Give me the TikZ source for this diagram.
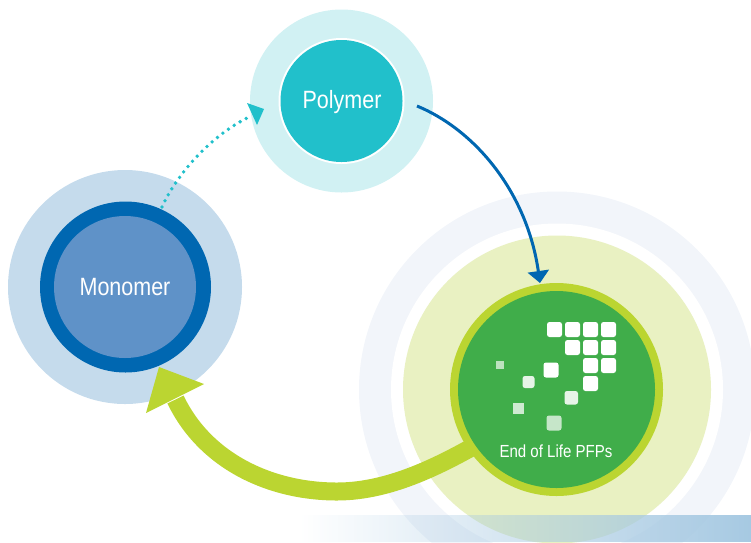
\documentclass[tikz,border=0pt]{standalone}
\usepackage{fontspec}
\setmainfont{Liberation Sans}
\newfontfamily\condfont[FakeStretch=0.86]{Liberation Sans}
\usetikzlibrary{arrows.meta,fadings,calc}
\definecolor{polypale}{HTML}{D1F1F3}
\definecolor{polyteal}{HTML}{21C0CB}
\definecolor{monopale}{HTML}{C5DBEC}
\definecolor{monodark}{HTML}{0067B1}
\definecolor{monomid}{HTML}{5F92C8}
\definecolor{pfpgreen}{HTML}{40AD4A}
\definecolor{lime}{HTML}{BBD531}
\definecolor{limepale}{HTML}{E9F1C2}
\definecolor{ringpale}{HTML}{F2F5FA}
\definecolor{barblue}{HTML}{A6C9E2}
\tikzset{
  x=1pt,y=-1pt,
  disc/.style={circle,inner sep=0pt,outer sep=0pt,minimum size=#1},
  label text/.style={text=white,font=\condfont\fontsize{25}{25}\selectfont,align=center},
  tile/.style={fill=white,rounded corners=2.5pt},
}
\begin{document}
\begin{tikzpicture}
\useasboundingbox (0,0) rectangle (751,542);
\clip (0,0) rectangle (751,542);
% end of life halos
\node[disc=396pt,fill=ringpale] (pfpouter) at (557,389.5) {};
\node[disc=332pt,fill=white] (pfpgap) at (557,389.5) {};
\node[disc=308pt,fill=limepale] (pfphalo) at (557,389.5) {};
% polymer
\node[disc=183pt,fill=polypale] (polyhalo) at (341.5,101) {};
\node[disc=126pt,fill=white] (polyrim) at (341.5,101) {};
\node[disc=122pt,fill=polyteal] (polymer) at (341.5,101) {};
\node[label text,inner sep=0pt] (polylabel) at (342,102) {Polymer};
% monomer
\node[disc=234pt,fill=monopale] (monohalo) at (125,287) {};
\node[disc=171pt,fill=monodark] (monorim) at (125.5,287) {};
\node[disc=142pt,fill=monomid,label text] (monomer) at (125,287) {Monomer};
% named ends
\coordinate (dotstart) at (162,207);
\coordinate (dotend) at (247,118);
\coordinate (bluestart) at (417,106);
\coordinate (blueend) at (540,283);
\coordinate (limestart) at (490,437);
\coordinate (limemid) at (337,491.5);
\coordinate (limeend) at (175.5,399.5);
% lime return arrow
\draw[lime,line width=18pt] (limestart) .. controls (445,463) and (392,491.5) .. (limemid)
  .. controls (270,491.5) and (205,461) .. (limeend);
\fill[lime] (159,367) -- (204,384) -- (184,394) -- (168,402) -- (146,413) -- cycle;
% dotted arrow
\draw[polyteal,line width=3.8pt,line cap=round,dash pattern=on 0pt off 6.9pt]
  (dotstart) .. controls (176,176) and (208,138) .. (dotend);
\fill[polyteal] (247,103) -- (264,109) -- (257,125) -- cycle;
% end of life disc
\node[disc=213pt,fill=lime] (pfprim) at (556.5,389.5) {};
\node[disc=197pt,fill=pfpgreen] (pfps) at (556.5,389.5) {};
\node[text=white,font=\condfont\fontsize{17.5}{17.5}\selectfont,inner sep=0pt] (pfplabel) at (556,451) {End of Life PFPs};
% blue arrow
\draw[monodark,line width=3pt,-{Triangle[length=12pt,width=21pt]}]
  (bluestart) .. controls (475,130) and (527,192) .. (blueend);
% tiles
\foreach \x/\y in {547/322,565/322,583/322,601/322,565/340,583/340,601/340,583/358,601/358,583/376,543.5/362.5}
  \fill[tile] (\x,\y) rectangle ++(15,15);
\fill[tile,fill opacity=.87] (522.5,376) rectangle ++(12,12);
\fill[tile,fill opacity=.87] (564.5,391) rectangle ++(13.5,13.5);
\fill[white,fill opacity=.75] (513,403) rectangle ++(11,11);
\fill[tile,fill opacity=.7] (546.5,415.5) rectangle ++(15,15);
\fill[white,fill opacity=.65] (496,361) rectangle ++(8,8);
% bottom band
\fill[barblue,path fading=west] (300,515) rectangle (751,542);
\end{tikzpicture}
\end{document}
